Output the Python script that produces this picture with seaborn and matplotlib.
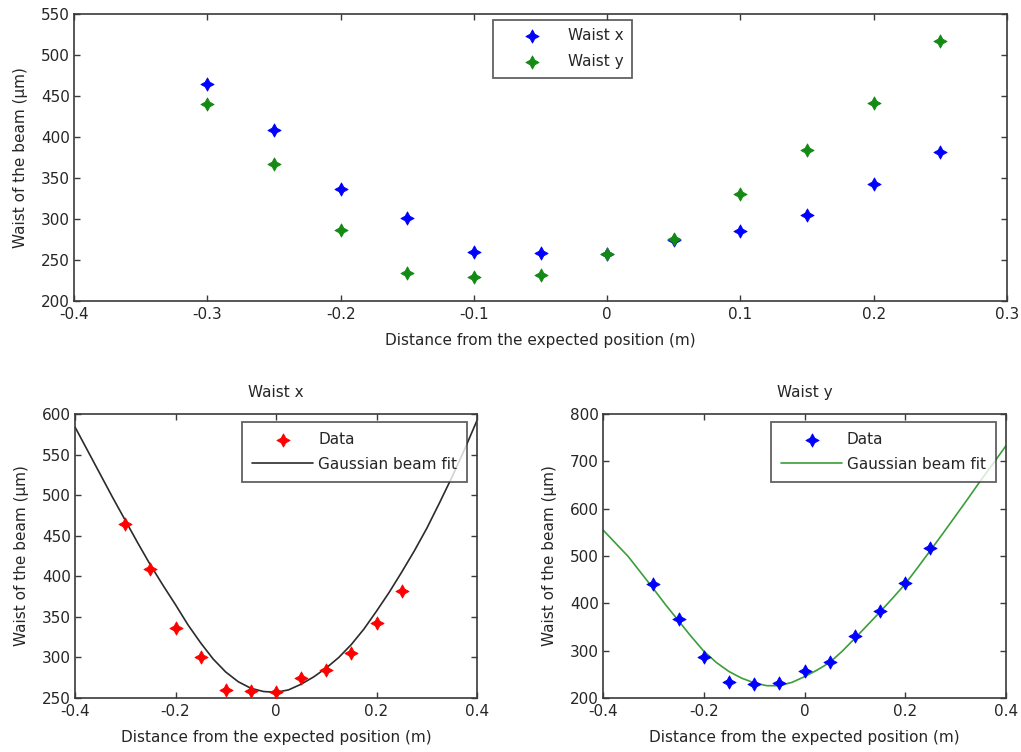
import numpy as np
import pandas as pd
import matplotlib
matplotlib.use("Agg")
import matplotlib.pyplot as plt
import seaborn as sns

# ---------------- data ----------------
positions = [-0.3, -0.25, -0.2, -0.15, -0.1, -0.05, 0.0, 0.05, 0.1, 0.15, 0.2, 0.25]
waist_x = [465, 409, 336, 301, 260, 259, 257, 275, 285, 305, 343, 382]
waist_y = [440, 367, 286, 234, 229, 232, 257, 276, 330, 384, 442, 517]

fit_pos = [-0.4, -0.375, -0.35, -0.325, -0.3, -0.275, -0.25, -0.225, -0.2,
           -0.175, -0.15, -0.125, -0.1, -0.075, -0.05, -0.025, 0.0,
           0.025, 0.05, 0.075, 0.1, 0.125, 0.15, 0.175, 0.2,
           0.225, 0.25, 0.275, 0.3, 0.325, 0.35, 0.375, 0.4]
fit_x = [584, 555, 526, 497, 469, 441, 414, 389, 365,
         340, 318, 298, 282, 270, 262, 258, 257,
         260, 267, 276, 287, 300, 316, 335, 357,
         380, 405, 431, 459, 490, 522, 556, 592]
fit_y = [555, 527, 499, 465, 431, 396, 363, 330, 299,
         275, 256, 242, 232, 226, 226, 233, 245,
         259, 275, 299, 326, 354, 382, 411, 441,
         476, 512, 548, 585, 622, 660, 696, 733]

top_xticks = [-0.4, -0.3, -0.2, -0.1, 0.0, 0.1, 0.2, 0.3]
top_xticklabels = ["-0.4", "-0.3", "-0.2", "-0.1", "0", "0.1", "0.2", "0.3"]
top_yticks = [200, 250, 300, 350, 400, 450, 500, 550]
bot_xticks = [-0.4, -0.2, 0.0, 0.2, 0.4]
bot_xticklabels = ["-0.4", "-0.2", "0", "0.2", "0.4"]
bl_yticks = [250, 300, 350, 400, 450, 500, 550, 600]
br_yticks = [200, 300, 400, 500, 600, 700, 800]

xlabel = "Distance from the expected position (m)"
ylabel = "Waist of the beam (\u00b5m)"

# ---------------- style ----------------
sns.set_theme(style="white")
plt.rcParams["font.family"] = ["DejaVu Sans"]
FS = 11
plt.rcParams["font.size"] = FS
plt.rcParams["text.color"] = "#262626"

BLUE = "#0000ff"
GREEN = "#138a13"
RED = "#ff0000"
LINEGREEN = "#3a9e3a"
EDGE = "#3a3a3a"
STAR = (4, 1, 0)
MS = 90

fig = plt.figure(figsize=(10.21, 7.52), dpi=100)
ax_top = fig.add_axes([74 / 1021, 1 - 301 / 752, 933 / 1021, 287 / 752])
ax_bl = fig.add_axes([75 / 1021, 1 - 698 / 752, 402 / 1021, 284 / 752])
ax_br = fig.add_axes([603 / 1021, 1 - 698 / 752, 403 / 1021, 284 / 752])


def style_axes(ax):
    for s in ax.spines.values():
        s.set_visible(True)
        s.set_color(EDGE)
        s.set_linewidth(1.2)
    ax.tick_params(direction="in", length=4, width=1, colors=EDGE,
                   top=True, right=True, bottom=True, left=True,
                   labelsize=FS, labelcolor="#262626")
    ax.tick_params(axis="x", pad=4)
    ax.tick_params(axis="y", pad=3)
    ax.grid(False)


df = pd.DataFrame({"pos": positions, "wx": waist_x, "wy": waist_y})
dfit = pd.DataFrame({"pos": fit_pos, "fx": fit_x, "fy": fit_y})


def stars(ax, col, color, label):
    sns.scatterplot(data=df, x="pos", y=col, ax=ax, marker=STAR, s=MS,
                    color=color, edgecolor=color, linewidth=0.6,
                    label=label, zorder=3)


# ---- top panel ----
stars(ax_top, "wx", BLUE, "Waist x")
stars(ax_top, "wy", GREEN, "Waist y")
ax_top.set_xlim(-0.4, 0.3)
ax_top.set_ylim(200, 550)
ax_top.set_xticks(top_xticks)
ax_top.set_xticklabels(top_xticklabels)
ax_top.set_yticks(top_yticks)
ax_top.set_yticklabels([str(v) for v in top_yticks])
ax_top.set_xlabel(xlabel, fontsize=FS, labelpad=8)
ax_top.set_ylabel(ylabel, fontsize=FS, labelpad=9)
style_axes(ax_top)
leg = ax_top.legend(loc="upper center", bbox_to_anchor=(0.5235, 0.979),
                    fontsize=FS, frameon=True, fancybox=False,
                    handlelength=4.0, handletextpad=0.35, labelspacing=0.7,
                    borderpad=0.55, borderaxespad=0)
leg.get_frame().set_edgecolor(EDGE)
leg.get_frame().set_linewidth(1.3)

# ---- bottom left ----
sns.lineplot(data=dfit, x="pos", y="fx", ax=ax_bl, color="#2b2b2b",
             linewidth=1.2, label="Gaussian beam fit", zorder=2)
stars(ax_bl, "wx", RED, "Data")
ax_bl.set_xlim(-0.4, 0.4)
ax_bl.set_ylim(250, 600)
ax_bl.set_xticks(bot_xticks)
ax_bl.set_xticklabels(bot_xticklabels)
ax_bl.set_yticks(bl_yticks)
ax_bl.set_yticklabels([str(v) for v in bl_yticks])
ax_bl.set_xlabel(xlabel, fontsize=FS, labelpad=8)
ax_bl.set_ylabel(ylabel, fontsize=FS, labelpad=9)
ax_bl.set_title("Waist x", fontsize=FS, pad=12)
style_axes(ax_bl)

# ---- bottom right ----
sns.lineplot(data=dfit, x="pos", y="fy", ax=ax_br, color=LINEGREEN,
             linewidth=1.2, label="Gaussian beam fit", zorder=2)
stars(ax_br, "wy", BLUE, "Data")
ax_br.set_xlim(-0.4, 0.4)
ax_br.set_ylim(200, 800)
ax_br.set_xticks(bot_xticks)
ax_br.set_xticklabels(bot_xticklabels)
ax_br.set_yticks(br_yticks)
ax_br.set_yticklabels([str(v) for v in br_yticks])
ax_br.set_xlabel(xlabel, fontsize=FS, labelpad=8)
ax_br.set_ylabel(ylabel, fontsize=FS, labelpad=9)
ax_br.set_title("Waist y", fontsize=FS, pad=12)
style_axes(ax_br)

for ax in (ax_bl, ax_br):
    handles, labels = ax.get_legend_handles_labels()
    order = [labels.index("Data"), labels.index("Gaussian beam fit")]
    lg = ax.legend([handles[i] for i in order], [labels[i] for i in order],
                   loc="upper right", bbox_to_anchor=(0.975, 0.972),
                   fontsize=FS, frameon=True, fancybox=False,
                   handlelength=4.0, handletextpad=0.3, labelspacing=0.65,
                   borderpad=0.65, borderaxespad=0)
    lg.get_frame().set_edgecolor(EDGE)
    lg.get_frame().set_linewidth(1.3)

fig.savefig("out.png", dpi=100, facecolor="white")
